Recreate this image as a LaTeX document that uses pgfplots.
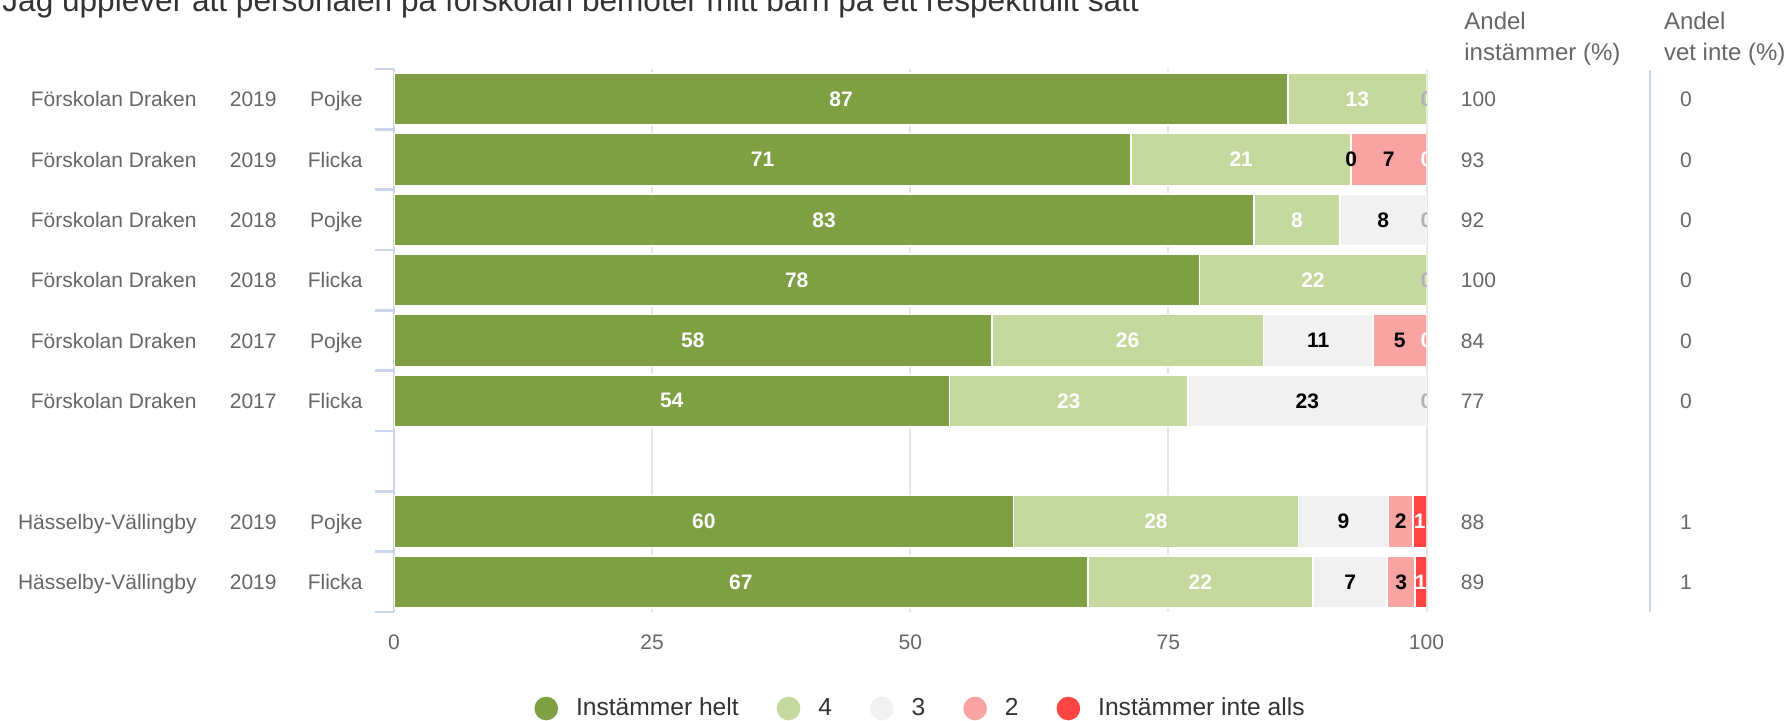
\documentclass[border=0pt]{standalone}
\usepackage{pgfplots}
\pgfplotsset{compat=1.18}
\usepackage{pgfplotstable}
\usepackage{fontspec}
\setmainfont{Liberation Sans}
\definecolor{cA}{RGB}{127,159,67}
\definecolor{cB}{RGB}{197,216,157}
\definecolor{cC}{RGB}{241,241,241}
\definecolor{cD}{RGB}{250,163,163}
\definecolor{cE}{RGB}{255,68,68}
\definecolor{gridc}{RGB}{230,230,230}
\definecolor{axblue}{RGB}{204,214,235}
\definecolor{labc}{RGB}{102,102,102}
\definecolor{dark}{RGB}{51,51,51}
\protected\def\zo{\textcolor{black!30}{0}}
\newcommand\fs{\fontsize{10.5}{12.6}\selectfont}

% y: row position (8 = top row, 2 = empty gap row)
\pgfplotstableread{
y a    la b    lb c    lc d   ld e   le
8 86.6 87 13.4 13 0    {} 0   {} 0   \zo
7 71.4 71 21.3 21 0    0  7.3 7  0   0
6 83.3 83 8.3  8  8.4  8  0   {} 0   \zo
5 78.0 78 22.0 22 0    {} 0   {} 0   \zo
4 57.9 58 26.3 26 10.6 11 5.2 5  0   0
3 53.8 54 23.1 23 23.1 23 0   {} 0   \zo
1 60.0 60 27.6 28 8.7  9  2.4 2  1.3 1
0 67.2 67 21.8 22 7.2  7  2.7 3  1.1 1
}\datatable
% label positions: middle of each segment
\pgfplotstablecreatecol[create col/expr={\thisrow{a}/2}]{ca}\datatable
\pgfplotstablecreatecol[create col/expr={\thisrow{a}+\thisrow{b}/2}]{cb}\datatable
\pgfplotstablecreatecol[create col/expr={\thisrow{a}+\thisrow{b}+\thisrow{c}/2}]{cc}\datatable
\pgfplotstablecreatecol[create col/expr={\thisrow{a}+\thisrow{b}+\thisrow{c}+\thisrow{d}/2}]{cd}\datatable
\pgfplotstablecreatecol[create col/expr={\thisrow{a}+\thisrow{b}+\thisrow{c}+\thisrow{d}+\thisrow{e}/2}]{ce}\datatable

\pgfplotsset{
  seg/.style={fill=#1, draw=white, line width=0.8pt,
    legend image code/.code={\fill[#1] (5.5pt,0pt) circle[radius=5.5pt];}},
  lblplot/.style={only marks, scatter, mark=text, text mark={},
    point meta=explicit symbolic,
    scatter/@pre marker code/.code={\node[inner sep=0pt, anchor=center,
      font=\fs\bfseries, text=#1] {\pgfplotspointmeta};},
    scatter/@post marker code/.code={}},
  geom/.style={at={(197pt,-306pt)}, anchor=south west,
    scale only axis, width=516.25pt, height=271.5pt,
    xmin=0, xmax=100, ymin=-0.5, ymax=8.5},
}
\tikzset{lbl/.style={inner sep=0pt, text=labc, font=\fs}}

\newcommand\rowlab[6]{%
  \node[lbl, anchor=base east, xshift=-98.5pt, yshift=-3.76pt] at (axis cs:0,#1) {#2};
  \node[lbl, anchor=base east, xshift=-58.5pt, yshift=-3.76pt] at (axis cs:0,#1) {#3};
  \node[lbl, anchor=base east, xshift=-15.5pt, yshift=-3.76pt] at (axis cs:0,#1) {#4};
  \node[lbl, anchor=base west, xshift=17pt, yshift=-3.76pt] at (axis cs:100,#1) {#5};
  \node[lbl, anchor=base, xshift=129.75pt, yshift=-3.76pt] at (axis cs:100,#1) {#6};
}

\begin{document}
\begin{tikzpicture}
\useasboundingbox (0,0) rectangle (894.5pt,-360pt);
\begin{axis}[
  geom,
  xbar stacked, bar width=26pt,
  axis lines*=left,
  x axis line style={draw=none},
  y axis line style={draw=axblue, line width=1pt},
  xtick={0,25,50,75,100},
  ytick={-0.5,0.5,...,8.5},
  yticklabels={},
  tick align=outside,
  major tick length=9.5pt,
  xtick style={draw=none},
  ytick style={draw=axblue, line width=1.3pt},
  xmajorgrids, ymajorgrids=false,
  grid style={draw=gridc, line width=1pt},
  ticklabel style={font=\fs, text=labc},
  xticklabel style={yshift=1.7pt},
  /pgf/number format/assume math mode=true,
  clip mode=individual,
  legend columns=5,
  legend cell align=left,
  legend style={at={(axis description cs:0.509,-0.1777)}, anchor=center,
    draw=none, fill=none, font=\fontsize{12.3}{14}\selectfont, text=dark,
    nodes={inner sep=0pt},
    /tikz/every odd column/.append style={column sep=9pt},
    /tikz/every even column/.append style={column sep=19pt}},
]
\addplot[seg=cA] table[x=a,y=y] {\datatable};
\addlegendentry{Instämmer helt}
\addplot[seg=cB] table[x=b,y=y] {\datatable};
\addlegendentry{4}
\addplot[seg=cC] table[x=c,y=y] {\datatable};
\addlegendentry{3}
\addplot[seg=cD] table[x=d,y=y] {\datatable};
\addlegendentry{2}
\addplot[seg=cE] table[x=e,y=y] {\datatable};
\addlegendentry{Instämmer inte alls}

\rowlab{8}{Förskolan Draken}{2019}{Pojke}{100}{0}
\rowlab{7}{Förskolan Draken}{2019}{Flicka}{93}{0}
\rowlab{6}{Förskolan Draken}{2018}{Pojke}{92}{0}
\rowlab{5}{Förskolan Draken}{2018}{Flicka}{100}{0}
\rowlab{4}{Förskolan Draken}{2017}{Pojke}{84}{0}
\rowlab{3}{Förskolan Draken}{2017}{Flicka}{77}{0}
\rowlab{1}{Hässelby-Vällingby}{2019}{Pojke}{88}{1}
\rowlab{0}{Hässelby-Vällingby}{2019}{Flicka}{89}{1}
\end{axis}

% value labels, centred in each segment
\begin{axis}[geom, hide axis, clip marker paths=true]
\addplot[lblplot=white] table[x=ca,y=y,meta=la] {\datatable};
\addplot[lblplot=white] table[x=cb,y=y,meta=lb] {\datatable};
\addplot[lblplot=black] table[x=cc,y=y,meta=lc] {\datatable};
\addplot[lblplot=black] table[x=cd,y=y,meta=ld] {\datatable};
\addplot[lblplot=white] table[x=ce,y=y,meta=le] {\datatable};
\end{axis}

\draw[axblue, line width=1.15pt] (825pt,-35pt) -- (825pt,-306pt);
\node[anchor=base west, inner sep=0pt, text=dark, font=\fontsize{15.8}{19}\selectfont]
  at (1pt,-5.75pt) {Jag upplever att personalen på förskolan bemöter mitt barn på ett respektfullt sätt};
\node[anchor=base west, inner sep=0pt, text=labc, font=\fontsize{12}{14}\selectfont] at (732pt,-14.55pt) {Andel};
\node[anchor=base west, inner sep=0pt, text=labc, font=\fontsize{12}{14}\selectfont] at (732pt,-30pt) {instämmer (\%)};
\node[anchor=base west, inner sep=0pt, text=labc, font=\fontsize{12}{14}\selectfont] at (831.8pt,-14.55pt) {Andel};
\node[anchor=base west, inner sep=0pt, text=labc, font=\fontsize{12}{14}\selectfont] at (831.8pt,-30pt) {vet inte (\%)};
\end{tikzpicture}
\end{document}
